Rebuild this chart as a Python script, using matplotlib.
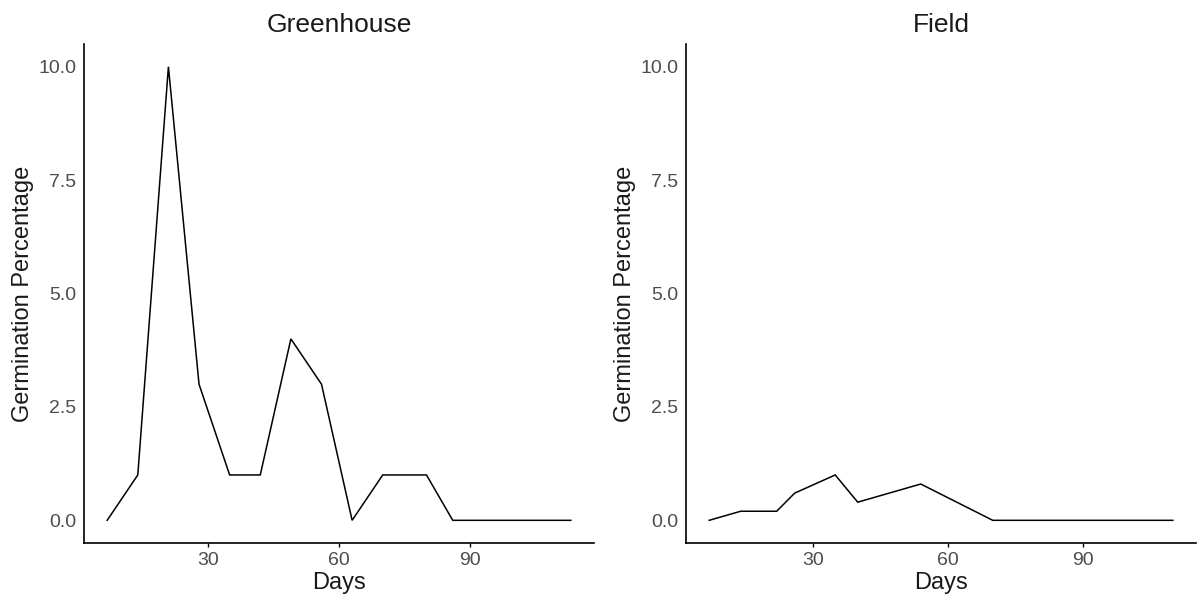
import matplotlib
matplotlib.use("Agg")
import matplotlib.pyplot as plt

plt.rcParams["font.family"] = ["Liberation Sans", "DejaVu Sans"]

# Germination over time, per growing environment
greenhouse_days = [7, 14, 21, 28, 35, 42, 49, 56, 63, 70, 80, 86, 113]
greenhouse_pct = [0, 1, 10, 3, 1, 1, 4, 3, 0, 1, 1, 0, 0]

field_days = [7, 14, 22, 26, 35, 40, 54, 70, 110]
field_pct = [0, 0.2, 0.2, 0.6, 1.0, 0.4, 0.8, 0, 0]

panels = [("Greenhouse", greenhouse_days, greenhouse_pct),
          ("Field", field_days, field_pct)]

y_ticks = [0.0, 2.5, 5.0, 7.5, 10.0]
x_ticks = [30, 60, 90]

W, H = 1200, 608
fig = plt.figure(figsize=(W / 100, H / 100), dpi=100)
rects = [
    [84 / W, 1 - 543 / H, 510 / W, 499 / H],
    [686 / W, 1 - 543 / H, 510 / W, 499 / H],
]

for rect, (name, days, pct) in zip(rects, panels):
    ax = fig.add_axes(rect)
    ax.plot(days, pct, color="black", linewidth=1.1, solid_joinstyle="miter")
    span = max(days) - min(days)
    ax.set_xlim(min(days) - 0.05 * span, max(days) + 0.05 * span)
    ax.set_ylim(-0.5, 10.5)
    ax.set_xticks(x_ticks)
    ax.set_yticks(y_ticks)
    ax.set_yticklabels([f"{v:.1f}" for v in y_ticks])
    for side in ("top", "right"):
        ax.spines[side].set_visible(False)
    for side in ("left", "bottom"):
        ax.spines[side].set_linewidth(1.2)
        ax.spines[side].set_color("black")
    ax.tick_params(axis="x", length=3, width=1.0, color="black",
                   labelsize=14, labelcolor="#4D4D4D", pad=3.5)
    ax.tick_params(axis="y", length=0, labelsize=14,
                   labelcolor="#4D4D4D", pad=5.5)
    ax.set_xlabel("Days", fontsize=17, color="#1A1A1A", labelpad=2.5)
    ax.set_ylabel("Germination Percentage", fontsize=17, color="#1A1A1A",
                  labelpad=3.5)
    ax.set_title(name, fontsize=19, color="#1A1A1A", pad=9)

fig.savefig("out.png", dpi=100, facecolor="white")
